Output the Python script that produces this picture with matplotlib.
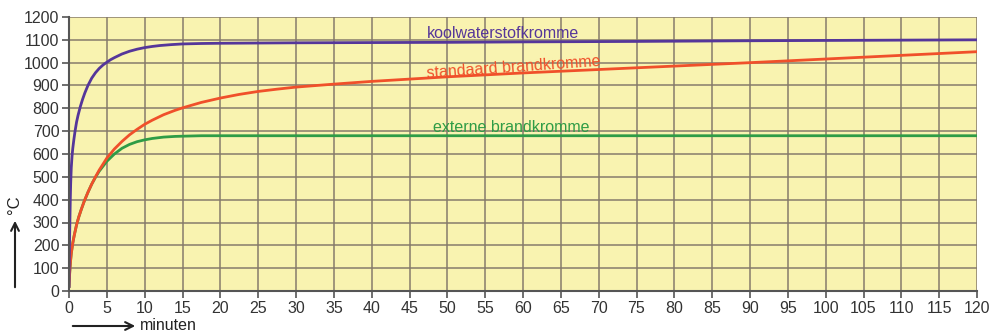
# Brandkrommen: temperatuur (°C) tegen tijd (minuten)

import matplotlib
matplotlib.use('Agg')
import matplotlib.pyplot as plt
from matplotlib.patches import FancyArrowPatch

plt.rcParams['font.family'] = ['Liberation Sans', 'DejaVu Sans']

# Koolwaterstofkromme
t_kws = [0, 0.02, 0.05, 0.08, 0.12, 0.17, 0.22, 0.3, 0.4, 0.5, 0.65, 0.8, 1.0, 1.2, 1.5, 1.8,
         2.1, 2.5, 3.0, 3.5, 4.0, 4.5, 5.0, 5.5, 6, 7, 8, 9, 10, 11, 12, 13.5, 15, 17.5, 20,
         25, 30, 40, 50, 60, 75, 90, 105, 120]
T_kws = [20, 80, 160, 230, 310, 400, 470, 540, 590, 625, 665, 700, 740, 770, 808, 840,
         868, 900, 932, 956, 975, 990, 1002, 1013, 1022, 1038, 1050, 1059, 1066, 1071, 1075, 1079, 1082, 1084, 1085,
         1086, 1087, 1088, 1089, 1091, 1093, 1096, 1098, 1100]

# Standaard brandkromme
t_std = [0, 0.05, 0.1, 0.2, 0.3, 0.5, 0.7, 1.0, 1.3, 1.6, 2.0, 2.5, 3.0, 3.5, 4.0, 5, 6, 7, 8, 9,
         10, 11, 12.5, 14, 15, 17.5, 20, 22.5, 25, 27.5, 30, 35, 40, 45, 50, 60, 70, 80, 90,
         100, 110, 120]
T_std = [20, 55, 85, 130, 165, 210, 245, 290, 325, 355, 392, 432, 468, 500, 530, 582, 622, 655, 684, 708,
         730, 748, 772, 791, 802, 826, 845, 861, 874, 884, 893, 906, 918, 928, 938, 955, 970, 985, 1000,
         1016, 1032, 1048]

# Externe brandkromme
t_ext = [0, 0.05, 0.1, 0.2, 0.3, 0.5, 0.7, 1.0, 1.3, 1.6, 2.0, 2.5, 3.0, 3.5, 4.0, 5, 6, 7, 8, 9,
         10, 11, 12.5, 14, 15, 17.5, 20, 60, 120]
T_ext = [20, 55, 85, 130, 165, 210, 245, 290, 325, 355, 392, 432, 468, 498, 525, 568, 600, 625, 642, 654,
         662, 668, 674, 677, 678, 680, 680, 680, 680]

paars = '#55369a'
oranje = '#f0502a'
groen = '#2f9c46'

fig = plt.figure(figsize=(9.93, 3.35), dpi=100)
ax = fig.add_axes([69 / 993, 1 - 291 / 335, 908 / 993, 274 / 335])
ax.set_facecolor('#f9f3b0')

# groen eerst, zodat oranje er in het begin overheen ligt
ax.plot(t_ext, T_ext, color=groen, linewidth=2)
ax.plot(t_std, T_std, color=oranje, linewidth=2)
ax.plot(t_kws, T_kws, color=paars, linewidth=2)

# Namen van de krommen
ax.text(57.4, 1128, 'koolwaterstofkromme', color=paars, fontsize=11.5, ha='center', va='center')
ax.text(58.7, 978, 'standaard brandkromme', color=oranje, fontsize=11.5, ha='center', va='center', rotation=4)
ax.text(58.5, 714, 'externe brandkromme', color=groen, fontsize=11.5, ha='center', va='center')

ax.set_xlim(0, 120)
ax.set_ylim(0, 1200)
ax.set_xticks(range(0, 121, 5))
ax.set_yticks(range(0, 1201, 100))
ax.grid(True, color='#85796a', linewidth=1.2, alpha=0.9)
ax.set_axisbelow(True)

for s in ['top', 'right']:
    ax.spines[s].set_visible(False)
for s in ['left', 'bottom']:
    ax.spines[s].set_color('#555555')
    ax.spines[s].set_linewidth(1.5)
ax.tick_params(direction='out', length=5, width=1.2, color='#555555',
               labelsize=11.5, labelcolor='#333333', pad=2)

# Pijlen bij de assen
fig.patches.append(FancyArrowPatch(
    (15 / 993, 1 - 290 / 335), (15 / 993, 1 - 218 / 335), transform=fig.transFigure,
    arrowstyle='->', mutation_scale=14, linewidth=1.5, color='#222222'))
fig.text(15 / 993, 1 - 205 / 335, '°C', rotation=90, fontsize=12, ha='center', va='center', color='#222222')

fig.patches.append(FancyArrowPatch(
    (70 / 993, 1 - 326 / 335), (138 / 993, 1 - 326 / 335), transform=fig.transFigure,
    arrowstyle='->', mutation_scale=14, linewidth=1.5, color='#222222'))
fig.text(140 / 993, 1 - 326 / 335, 'minuten', fontsize=11.5, ha='left', va='center', color='#222222')

plt.savefig('out.png', dpi=100)
plt.close()
